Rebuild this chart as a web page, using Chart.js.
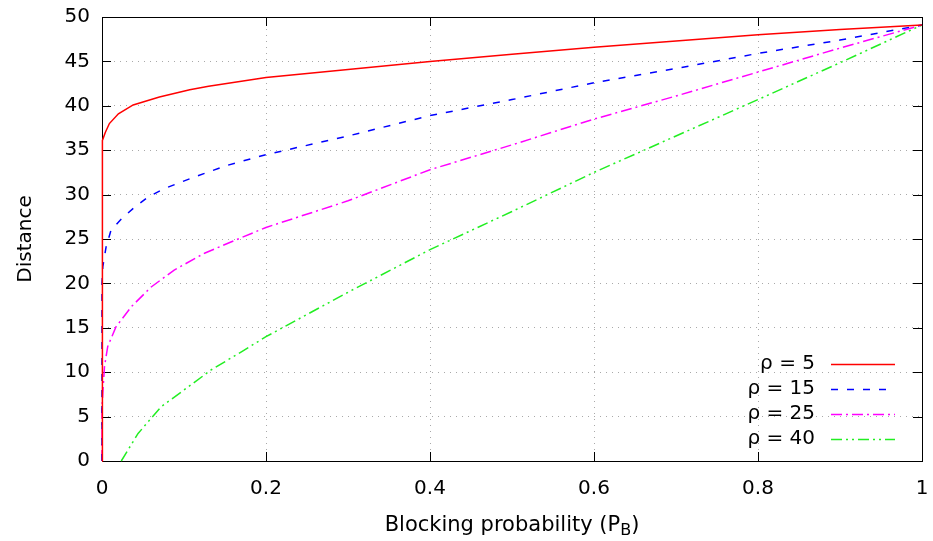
<!DOCTYPE html>
<html>
<head>
<meta charset="utf-8">
<script src="https://cdn.jsdelivr.net/npm/chart.js@4/dist/chart.umd.min.js"></script>
<style>
  html, body { margin: 0; padding: 0; background: #fff; }
  #wrap { width: 933px; height: 541px; position: relative; }
</style>
</head>
<body>
<div id="wrap"><canvas id="distChart"></canvas></div>
<script>
// values
const pbRho5 = [0, 0, 0.001, 0.004, 0.009, 0.02, 0.038, 0.07, 0.107, 0.13, 0.2, 0.3, 0.4, 0.5, 0.6, 0.7, 0.8, 0.9, 1];
const distRho5 = [0, 35, 36.1, 37.0, 38.0, 39.1, 40.1, 41.0, 41.8, 42.2, 43.2, 44.1, 45.0, 45.8, 46.6, 47.3, 48.0, 48.6, 49.1];

const pbRho15 = [0, 0, 0.001, 0.005, 0.011, 0.023, 0.04, 0.056, 0.074, 0.113, 0.153, 0.2, 0.3, 0.4, 0.5, 0.6, 0.7, 0.8, 0.9, 1];
const distRho15 = [0, 20, 21.9, 24.1, 26.0, 27.2, 28.6, 29.7, 30.6, 32.0, 33.3, 34.5, 36.6, 38.9, 40.7, 42.6, 44.2, 45.9, 47.4, 49.1];

const pbRho25 = [0, 0, 0.001, 0.003, 0.007, 0.017, 0.036, 0.06, 0.088, 0.125, 0.166, 0.2, 0.3, 0.4, 0.5, 0.6, 0.7, 0.8, 0.9, 1];
const distRho25 = [0, 6, 7.7, 10.6, 12.9, 15.1, 17.4, 19.6, 21.5, 23.4, 25.0, 26.3, 29.3, 32.8, 35.6, 38.5, 41.1, 43.8, 46.5, 49.1];

const pbRho40 = [0.0235, 0.044, 0.072, 0.1, 0.133, 0.17, 0.2, 0.3, 0.4, 0.5, 0.6, 0.7, 0.8, 0.9, 1];
const distRho40 = [0, 3.1, 6.1, 8.0, 10.25, 12.3, 14.0, 19.0, 23.8, 28.1, 32.5, 36.6, 40.7, 44.85, 49.1];

const seriesLabels = ['ρ = 5', 'ρ = 15', 'ρ = 25', 'ρ = 40'];
const xTicks = [0, 0.2, 0.4, 0.6, 0.8, 1];

const FONT = '"DejaVu Sans", sans-serif';

function pts(xs, ys) {
    return xs.map((x, i) => ({ x, y: ys[i] }));
}

const styles = [
    { color: '#ff0000', dash: [] },
    { color: '#0000ff', dash: [7, 9] },
    { color: '#ff00ff', dash: [11, 4, 2, 4] },
    { color: '#22ee22', dash: [11, 4, 2, 4, 2, 4] },
];

const allX = [pbRho5, pbRho15, pbRho25, pbRho40];
const allY = [distRho5, distRho15, distRho25, distRho40];

const datasets = seriesLabels.map((label, i) => ({
    label,
    data: pts(allX[i], allY[i]),
    borderColor: styles[i].color,
    borderDash: styles[i].dash,
    borderWidth: 1.5,
    pointRadius: 0,
    showLine: true,
    tension: 0,
    fill: false,
    clip: 3,
}));

// gnuplot style frame: box border, inward ticks, right-aligned key, subscripted x label
const framePlugin = {
    id: 'frame',
    beforeDatasetsDraw(chart) {
        const { ctx, chartArea: a, scales } = chart;
        const tl = 9;
        ctx.save();
        ctx.strokeStyle = '#000';
        ctx.lineWidth = 1;
        ctx.setLineDash([]);
        ctx.beginPath();
        scales.x.ticks.forEach(t => {
            const px = Math.round(scales.x.getPixelForValue(t.value)) + 0.5;
            ctx.moveTo(px, a.bottom); ctx.lineTo(px, a.bottom - tl);
            ctx.moveTo(px, a.top); ctx.lineTo(px, a.top + tl);
        });
        scales.y.ticks.forEach(t => {
            const py = Math.round(scales.y.getPixelForValue(t.value)) + 0.5;
            ctx.moveTo(a.left, py); ctx.lineTo(a.left + tl, py);
            ctx.moveTo(a.right, py); ctx.lineTo(a.right - tl, py);
        });
        ctx.stroke();
        ctx.strokeRect(Math.round(a.left) + 0.5, Math.round(a.top) + 0.5,
            Math.round(a.right - a.left), Math.round(a.bottom - a.top));
        ctx.restore();
    },
    afterDatasetsDraw(chart) {
        const { ctx, chartArea: a } = chart;
        ctx.save();
        // key
        ctx.font = '20px ' + FONT;
        ctx.fillStyle = '#000';
        ctx.textAlign = 'right';
        ctx.textBaseline = 'middle';
        const keyTextX = 815, lineX0 = 831, lineX1 = 895;
        const keyY0 = 364, keyStep = 25;
        seriesLabels.forEach((label, i) => {
            const y = keyY0 + i * keyStep;
            ctx.fillText(label, keyTextX, y);
            ctx.strokeStyle = styles[i].color;
            ctx.lineWidth = 1.5;
            ctx.setLineDash(styles[i].dash);
            ctx.beginPath();
            ctx.moveTo(lineX0, y + 0.5);
            ctx.lineTo(lineX1, y + 0.5);
            ctx.stroke();
        });
        ctx.setLineDash([]);

        // x axis title with subscript
        const main = 'Blocking probability (P';
        const sub = 'B';
        const close = ')';
        ctx.textAlign = 'left';
        ctx.textBaseline = 'alphabetic';
        ctx.font = '21px ' + FONT;
        const wMain = ctx.measureText(main).width;
        const wClose = ctx.measureText(close).width;
        ctx.font = '16px ' + FONT;
        const wSub = ctx.measureText(sub).width;
        const total = wMain + wSub + wClose;
        const cx = (a.left + a.right) / 2;
        let x = cx - total / 2;
        const base = 531;
        ctx.font = '21px ' + FONT;
        ctx.fillText(main, x, base);
        x += wMain;
        ctx.font = '16px ' + FONT;
        ctx.fillText(sub, x, base + 4);
        x += wSub;
        ctx.font = '21px ' + FONT;
        ctx.fillText(close, x, base);
        ctx.restore();
    }
};

const gridStyle = {
    color: 'rgba(160,160,160,0.9)',
    lineWidth: 1,
    drawTicks: false,
    tickLength: 0,
};

new Chart(document.getElementById('distChart'), {
    type: 'scatter',
    data: { datasets },
    options: {
        responsive: true,
        maintainAspectRatio: false,
        animation: false,
        layout: { padding: { top: 17, right: 11, left: 0, bottom: 0 } },
        plugins: {
            legend: { display: false },
            tooltip: { enabled: false },
        },
        scales: {
            x: {
                type: 'linear',
                min: 0,
                max: 1,
                afterBuildTicks: (scale) => { scale.ticks = xTicks.map(v => ({ value: v })); },
                afterFit: (scale) => {
                    scale.height = 80;
                    scale.paddingLeft = 0;
                    scale.paddingRight = 0;
                },
                grid: gridStyle,
                border: { display: false, dash: [1, 5] },
                ticks: {
                    color: '#000',
                    padding: 16,
                    maxRotation: 0,
                    callback: (v) => String(Math.round(v * 10) / 10),
                    font: { family: FONT, size: 20 },
                },
            },
            y: {
                type: 'linear',
                min: 0,
                max: 50,
                afterFit: (scale) => {
                    scale.width = 102;
                    scale.paddingTop = 0;
                    scale.paddingBottom = 0;
                },
                grid: gridStyle,
                border: { display: false, dash: [1, 5] },
                ticks: {
                    stepSize: 5,
                    color: '#000',
                    padding: 12,
                    font: { family: FONT, size: 20 },
                },
                title: {
                    display: true,
                    text: 'Distance',
                    color: '#000',
                    padding: { top: 14, bottom: 0 },
                    font: { family: FONT, size: 20 },
                },
            },
        },
    },
    plugins: [framePlugin],
});
</script>
</body>
</html>
